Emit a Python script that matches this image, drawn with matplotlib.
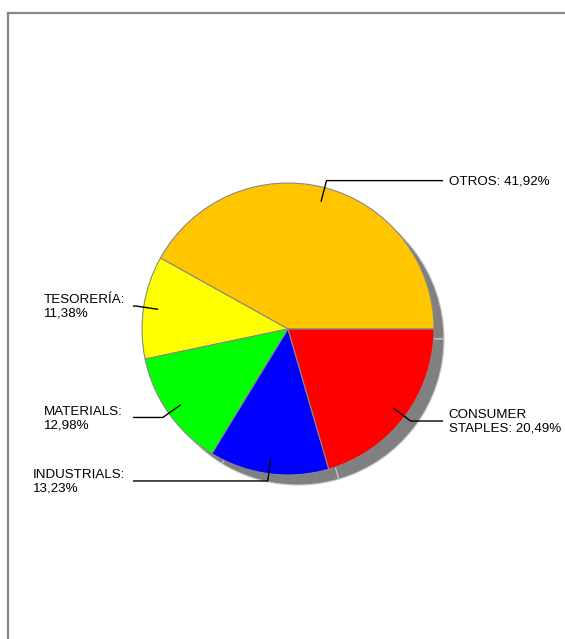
import numpy as np
import matplotlib
matplotlib.use("Agg")
import matplotlib.pyplot as plt
from matplotlib.lines import Line2D

plt.rcParams['font.family'] = ['Liberation Sans', 'DejaVu Sans']

# ---------- data
labels = ["OTROS", "TESORERÍA", "MATERIALS", "INDUSTRIALS", "CONSUMER\nSTAPLES"]
values = [41.92, 11.38, 12.98, 13.23, 20.49]
colors = ["#FFC600", "#FFFF00", "#00FF00", "#0000FF", "#FF0000"]

W, H = 565, 639
fig = plt.figure(figsize=(W / 100, H / 100), dpi=100)
ax = fig.add_axes([0, 0, 1, 1])

# pie centre/radius in pixels, converted to axis limits
cx, cy, R = 288, 329, 146

# shadow
sh = 10 / R
ax.pie(values, colors=["#808080"] * len(values), startangle=0, counterclock=True,
       center=(sh, -sh), radius=1, frame=True,
       wedgeprops=dict(edgecolor="#c8c8c8", linewidth=0.8))
wedges, _ = ax.pie(values, colors=colors, startangle=0, counterclock=True,
                   center=(0, 0), radius=1, frame=True,
                   wedgeprops=dict(edgecolor="#888888", linewidth=0.8))
ax.set_xlim(-cx / R, (W - cx) / R)
ax.set_ylim(-(H - cy) / R, cy / R)
ax.set_aspect("equal")
ax.set_axis_off()

# labels with leader lines
for w, lab, v in zip(wedges, labels, values):
    ang = np.deg2rad((w.theta1 + w.theta2) / 2)
    x0, y0 = 0.9 * np.cos(ang), 0.9 * np.sin(ang)
    x1, y1 = 1.05 * np.cos(ang), 1.05 * np.sin(ang)
    right = np.cos(ang) > 0
    xe = 1.062 if right else -1.062
    ax.plot([x0, x1, xe], [y0, y1, y1], color="black", lw=1, solid_capstyle="butt")
    pct = f"{v:.2f}%".replace(".", ",")
    txt = f"{lab}: {pct}" if right else f"{lab}:\n{pct}"
    if right:
        tx = 1.10
    else:
        tx = -1.747 if lab == "INDUSTRIALS" else -1.671
    ax.text(tx, y1 - 1 / R, txt, ha="left", va="center", fontsize=9.6, linespacing=1.2)

# outer frame
fig.add_artist(Line2D([7.5 / W, 7.5 / W], [0, 1 - 12.5 / H], transform=fig.transFigure,
                      color="#888888", lw=1.6))
fig.add_artist(Line2D([7.5 / W, 1], [1 - 12.5 / H, 1 - 12.5 / H], transform=fig.transFigure,
                      color="#888888", lw=1.6))

fig.savefig("out.png", dpi=100)
